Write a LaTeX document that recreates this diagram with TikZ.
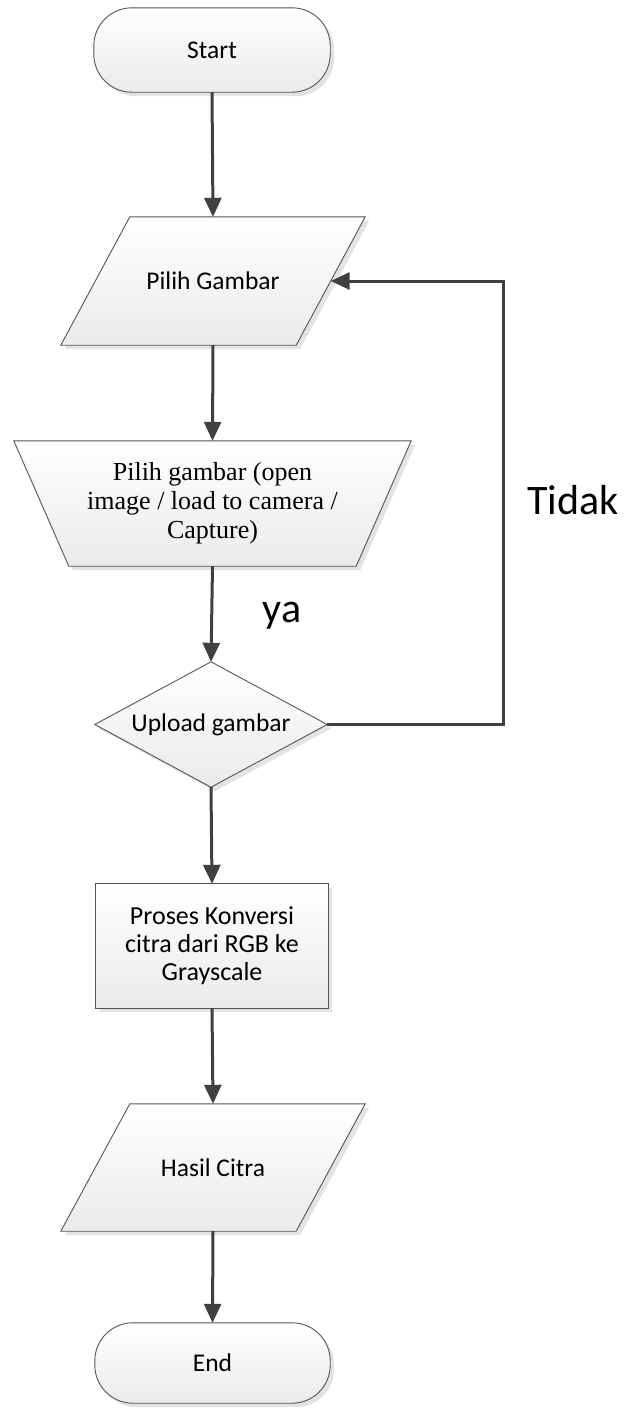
\documentclass[tikz,border=0pt]{standalone}
\usepackage{fontspec}
\setmainfont{Carlito}
\newfontfamily\serifface{Liberation Serif}
\usetikzlibrary{arrows.meta}
\pgfdeclarelayer{background}
\pgfsetlayers{background,main}
\definecolor{linec}{HTML}{404040}
\definecolor{edgec}{HTML}{555555}
\begin{document}
\begin{tikzpicture}[x=1pt,y=-1pt,
  box/.style={draw=none, inner sep=0pt, align=center, font=\fontsize{25.5}{29}\selectfont},
  outline/.style={draw=edgec, line width=0.9pt, top color=white, bottom color=black!8},
  shadowfill/.style={fill=black!11, draw=none},
  conn/.style={draw=linec, line width=3pt, -{Triangle[length=19pt,width=17pt]}},
  lbl/.style={font=\fontsize{42}{48}\selectfont, inner sep=0pt}]
\useasboundingbox (0,0) rectangle (632,1408);

% nodes
\node[box, minimum width=236, minimum height=84] (start) at (212,50) {Start};
\node[box, minimum width=235, minimum height=128] (p1) at (213,281) {Pilih Gambar};
\node[box, minimum width=342, minimum height=125, font=\serifface\fontsize{26}{29}\selectfont] (trap) at (212.5,503.5) {Pilih gambar (open\\image / load to camera /\\Capture)};
\node[box, minimum width=232, minimum height=125] (dec) at (211,724.5) {Upload gambar};
\node[box, minimum width=232, minimum height=124, font=\fontsize{26}{28}\selectfont] (proc) at (212,946) {Proses Konversi\\citra dari RGB ke\\Grayscale};
\node[box, minimum width=235, minimum height=127] (hasil) at (213,1167.5) {Hasil Citra};
\node[box, minimum width=235, minimum height=80] (endn) at (212.5,1363) {End};

\node[lbl] (ya) at (282,616) {ya};
\node[lbl] (tidak) at (573,500) {Tidak};

\begin{pgfonlayer}{background}
  \begin{scope}[transform canvas={xshift=4pt,yshift=-4pt}]
    \fill[shadowfill, rounded corners=38pt] (start.north west) rectangle (start.south east);
    \fill[shadowfill] ([xshift=34.5pt]p1.north west) -- ([xshift=34.5pt]p1.north east) -- ([xshift=-34.5pt]p1.south east) -- ([xshift=-34.5pt]p1.south west) -- cycle;
    \fill[shadowfill] ([xshift=-27.5pt]trap.north west) -- ([xshift=27.5pt]trap.north east) -- ([xshift=-27.5pt]trap.south east) -- ([xshift=27.5pt]trap.south west) -- cycle;
    \fill[shadowfill] (dec.north) -- (dec.east) -- (dec.south) -- (dec.west) -- cycle;
    \fill[shadowfill] (proc.north west) rectangle (proc.south east);
    \fill[shadowfill] ([xshift=34.5pt]hasil.north west) -- ([xshift=34.5pt]hasil.north east) -- ([xshift=-34.5pt]hasil.south east) -- ([xshift=-34.5pt]hasil.south west) -- cycle;
    \fill[shadowfill, rounded corners=38pt] (endn.north west) rectangle (endn.south east);
  \end{scope}
  \draw[outline, rounded corners=38pt] (start.north west) rectangle (start.south east);
  \draw[outline] ([xshift=34.5pt]p1.north west) -- ([xshift=34.5pt]p1.north east) -- ([xshift=-34.5pt]p1.south east) -- ([xshift=-34.5pt]p1.south west) -- cycle;
  \draw[outline] ([xshift=-27.5pt]trap.north west) -- ([xshift=27.5pt]trap.north east) -- ([xshift=-27.5pt]trap.south east) -- ([xshift=27.5pt]trap.south west) -- cycle;
  \draw[outline] (dec.north) -- (dec.east) -- (dec.south) -- (dec.west) -- cycle;
  \draw[outline] (proc.north west) rectangle (proc.south east);
  \draw[outline] ([xshift=34.5pt]hasil.north west) -- ([xshift=34.5pt]hasil.north east) -- ([xshift=-34.5pt]hasil.south east) -- ([xshift=-34.5pt]hasil.south west) -- cycle;
  \draw[outline, rounded corners=38pt] (endn.north west) rectangle (endn.south east);
\end{pgfonlayer}

% connectors
\coordinate (loop) at (503,500);
\draw[conn] (start.south) -- (p1.north);
\draw[conn] (p1.south) -- (trap.north);
\draw[conn] (trap.south) -- (dec.north);
\draw[conn] (dec.south) -- (proc.north);
\draw[conn] (proc.south) -- (hasil.north);
\draw[conn] (hasil.south) -- (endn.north);
\draw[conn] (dec.east) -| (loop) |- (p1.east);
\end{tikzpicture}
\end{document}
